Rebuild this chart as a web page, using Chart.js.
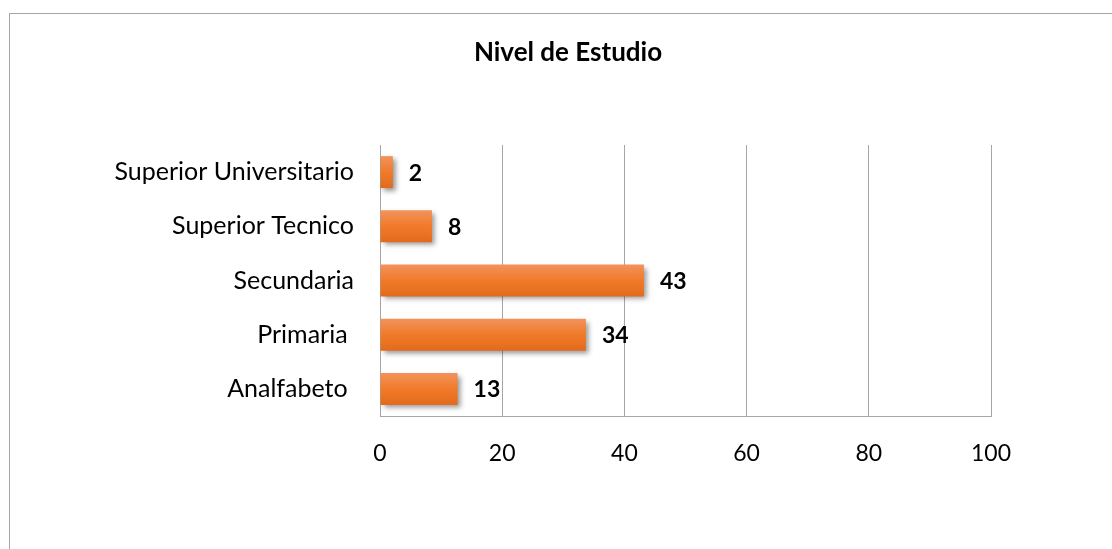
<!DOCTYPE html>
<html>
<head>
<meta charset="utf-8">
<script src="https://cdn.jsdelivr.net/npm/chart.js@4.4.0/dist/chart.umd.min.js"></script>
<style>
    html, body { margin: 0; padding: 0; overflow: hidden; background: #fff; }
    #marco { position: absolute; left: 9px; top: 13px; width: 1300px; height: 700px; border: 1px solid #a6a6a6; }
    #caja { position: absolute; left: 0; top: 0; width: 1112px; height: 549px; }
</style>
</head>
<body>
<div id="marco"></div>
<div id="caja"><canvas id="graficoBarra" width="1112" height="549"></canvas></div>
<script>
// Datos
const titulo = "Nivel de Estudio";
const categorias = ["Superior Universitario", "Superior Tecnico", "Secundaria", "Primaria ", "Analfabeto "];
const valores = [2.1, 8.5, 43.2, 33.7, 12.7];
const etiquetas = ["2", "8", "43", "34", "13"];
const ticksX = [0, 20, 40, 60, 80, 100];

const fuente = "Lato, 'Open Sans', sans-serif";

// degradado vertical de cada barra
function degradado(context) {
    const chart = context.chart;
    const y = chart.scales.y;
    if (!y || !chart.chartArea) return '#f07b2c';
    const centro = y.getPixelForValue(context.dataIndex);
    const alto = (y.bottom - y.top) / categorias.length * 0.59;
    if (!isFinite(centro) || !isFinite(alto)) return '#f07b2c';
    const g = chart.ctx.createLinearGradient(0, centro - alto / 2, 0, centro + alto / 2);
    g.addColorStop(0, '#f2935c');
    g.addColorStop(0.5, '#f07a2a');
    g.addColorStop(1, '#e36a1c');
    return g;
}

// sombra de las barras
const sombra = {
    id: 'sombra',
    beforeDatasetsDraw(chart) {
        const ctx = chart.ctx;
        ctx.save();
        ctx.shadowColor = 'rgba(0,0,0,0.4)';
        ctx.shadowBlur = 5;
        ctx.shadowOffsetX = 3;
        ctx.shadowOffsetY = 3;
    },
    afterDatasetsDraw(chart) {
        chart.ctx.restore();
    }
};

// etiquetas de datos y titulo
const textos = {
    id: 'textos',
    afterDraw(chart) {
        const ctx = chart.ctx;
        ctx.save();
        ctx.fillStyle = '#000';
        ctx.font = "bold 23px " + fuente;
        ctx.textBaseline = 'middle';
        ctx.textAlign = 'left';
        chart.getDatasetMeta(0).data.forEach(function (barra, i) {
            ctx.fillText(etiquetas[i], barra.x + 16, barra.y + 1);
        });
        ctx.font = "bold 26px " + fuente;
        ctx.textAlign = 'center';
        ctx.fillText(titulo, 568, 53);
        ctx.restore();
    }
};

new Chart(document.getElementById('graficoBarra').getContext('2d'), {
    type: 'bar',
    data: {
        labels: categorias,
        datasets: [{
            data: valores,
            backgroundColor: degradado,
            borderWidth: 0,
            categoryPercentage: 1,
            barPercentage: 0.59
        }]
    },
    options: {
        indexAxis: 'y',
        responsive: false,
        animation: false,
        events: [],
        layout: { padding: { top: 145, right: 121, bottom: 0, left: 0 } },
        plugins: {
            legend: { display: false },
            title: { display: false },
            tooltip: { enabled: false }
        },
        scales: {
            x: {
                min: 0,
                max: 100,
                afterBuildTicks(scale) { scale.ticks = ticksX.map(v => ({ value: v })); },
                afterFit(scale) { scale.height = 133; },
                grid: { color: '#a6a6a6', lineWidth: 1, drawTicks: false },
                border: { display: true, color: '#a6a6a6', width: 1 },
                ticks: { color: '#000', padding: 24, font: { family: fuente, size: 23 } }
            },
            y: {
                afterFit(scale) { scale.width = 380; },
                grid: { display: false, drawTicks: false },
                border: { display: true, color: '#a6a6a6', width: 1 },
                ticks: { color: '#000', padding: 26, font: { family: fuente, size: 25 } }
            }
        }
    },
    plugins: [sombra, textos]
});
</script>
</body>
</html>
